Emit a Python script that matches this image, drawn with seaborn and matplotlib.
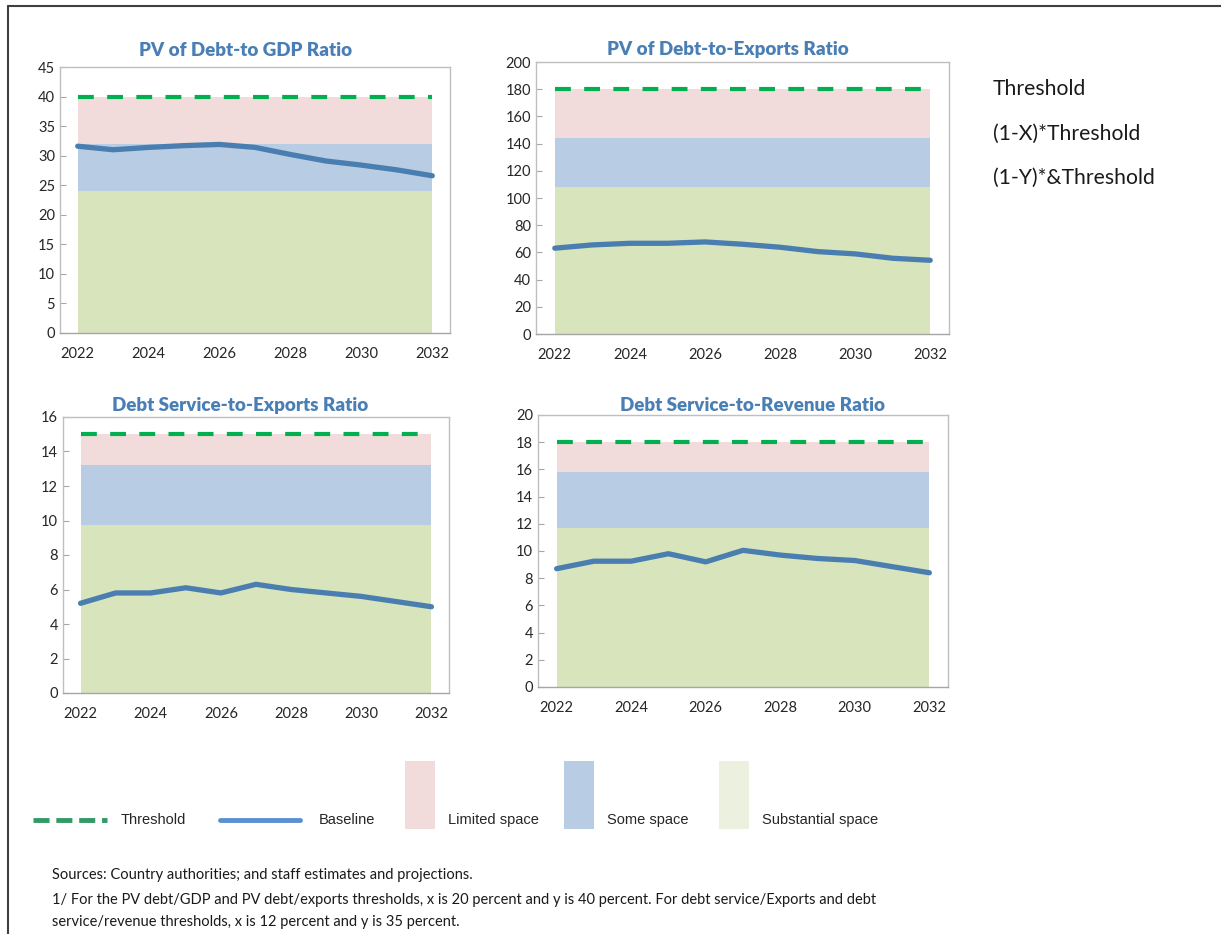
import numpy as np
import pandas as pd
import matplotlib.pyplot as plt
import seaborn as sns
from matplotlib.lines import Line2D
from matplotlib.patches import Rectangle

# Данные
years = list(range(2022, 2033))

titles = ['PV of Debt-to GDP Ratio', 'PV of Debt-to-Exports Ratio',
          'Debt Service-to-Exports Ratio', 'Debt Service-to-Revenue Ratio']

baseline_gdp = [31.6, 31.0, 31.4, 31.7, 31.9, 31.4, 30.2, 29.1, 28.4, 27.6, 26.6]
baseline_exp = [63.1, 65.5, 66.7, 66.7, 67.7, 66.0, 63.8, 60.6, 58.9, 55.7, 54.2]
baseline_dse = [5.2, 5.8, 5.8, 6.1, 5.8, 6.3, 6.0, 5.8, 5.6, 5.3, 5.0]
baseline_dsr = [8.7, 9.25, 9.25, 9.8, 9.2, 10.05, 9.7, 9.45, 9.3, 8.85, 8.4]

thresholds = [40, 180, 15, 18]
x_share = [0.20, 0.20, 0.12, 0.12]
y_share = [0.40, 0.40, 0.35, 0.35]

y_max = [45, 200, 16, 20]
y_step = [5, 20, 2, 2]

legend_labels = ['Threshold', 'Baseline', 'Limited space', 'Some space', 'Substantial space']
side_labels = ['Threshold', '(1-X)*Threshold', '(1-Y)*&Threshold']
notes = ['Sources: Country authorities; and staff estimates and projections.',
         '1/ For the PV debt/GDP and PV debt/exports thresholds, x is 20 percent and y is 40 percent. For debt service/Exports and debt',
         'service/revenue thresholds, x is 12 percent and y is 35 percent.']

baselines = [baseline_gdp, baseline_exp, baseline_dse, baseline_dsr]

# Цвета
c_limited = '#f2dcdb'
c_some = '#b8cce4'
c_subst = '#d7e4bc'
c_thr = '#00b050'
c_base = '#4a7eb0'
c_title = '#4a7fb5'

sns.set_style('white')
plt.rcParams['font.family'] = ['Lato', 'DejaVu Sans']

W, H = 1221, 934
fig = plt.figure(figsize=(W / 100, H / 100), dpi=100)

# позиции осей в пикселях: left, top, right, bottom
boxes = [(60, 67, 450, 333), (536, 62, 949, 334),
         (63, 417, 449, 693), (538, 415, 948, 687)]
title_x = [0.477, 0.465, 0.458, 0.522]
title_pad = [8, 5, 4, 3]

for i in range(4):
    l, t, r, b = boxes[i]
    ax = fig.add_axes([l / W, 1 - b / H, (r - l) / W, (b - t) / H])
    thr = thresholds[i]
    df = pd.DataFrame({'year': years, 'baseline': baselines[i],
                       'threshold': [thr] * len(years)})
    lim = (1 - x_share[i]) * thr
    sub = (1 - y_share[i]) * thr
    ax.fill_between(df['year'], 0, sub, color=c_subst, lw=0)
    ax.fill_between(df['year'], sub, lim, color=c_some, lw=0)
    ax.fill_between(df['year'], lim, thr, color=c_limited, lw=0)
    sns.lineplot(data=df, x='year', y='threshold', ax=ax, color=c_thr,
                 lw=3, dashes=False, linestyle=(0, (3.8, 3.2)))
    sns.lineplot(data=df, x='year', y='baseline', ax=ax, color=c_base, lw=3.8)

    ax.set_xlim(2021.5, 2032.5)
    ax.set_ylim(0, y_max[i])
    ax.set_yticks(np.arange(0, y_max[i] + 0.1, y_step[i]))
    ax.set_xticks(years[::2])
    ax.set_xticks([y + 0.5 for y in years[:-1]], minor=True)
    ax.tick_params(axis='x', which='major', length=0, pad=10, labelsize=10.5)
    ax.tick_params(axis='x', which='minor', direction='in', length=4,
                   color='#a6a6a6', bottom=True)
    ax.tick_params(axis='y', length=4, direction='in', color='#a6a6a6',
                   left=True, labelsize=10.5)
    ax.set_xlabel('')
    ax.set_ylabel('')
    for s in ax.spines.values():
        s.set_color('#bfbfbf')
        s.set_linewidth(1)
    ax.spines['bottom'].set_color('#a6a6a6')
    ax.set_title(titles[i], color=c_title, fontweight='heavy', fontsize=13.5,
                 pad=title_pad[i], x=title_x[i])

# Текст справа
for k, txt in enumerate(side_labels):
    fig.text(993 / W, 1 - (89 + k * 44.5) / H, txt, fontsize=15.2, va='center',
             ha='left', color='#1a1a1a')

# Легенда
fam = ['Liberation Sans', 'DejaVu Sans']
ly = 1 - 820 / H
fig.add_artist(Line2D([33 / W, 107 / W], [ly, ly], color='#339966', lw=3.5,
                      linestyle=(0, (3.3, 1.4))))
fig.add_artist(Line2D([220 / W, 300 / W], [ly, ly], color='#5b8fd0', lw=3.5))
fig.text(121 / W, ly, legend_labels[0], fontsize=10.5, va='center', family=fam)
fig.text(319 / W, ly, legend_labels[1], fontsize=10.5, va='center', family=fam)
patch_x = [405, 564, 719]
patch_c = [c_limited, c_some, '#ebf1de']
for k in range(3):
    fig.add_artist(Rectangle((patch_x[k] / W, 1 - 829 / H), 30 / W, 68 / H,
                             facecolor=patch_c[k], edgecolor='none'))
    fig.text((patch_x[k] + 43) / W, ly, legend_labels[2 + k], fontsize=10.5,
             va='center', family=fam)

# Примечания
for k, (txt, yy) in enumerate(zip(notes, [875, 900, 922])):
    fig.text(52 / W, 1 - yy / H, txt, fontsize=10.5, va='center', color='#1a1a1a')

# Рамка
fig.add_artist(Line2D([8 / W, 8 / W], [0, 1 - 6 / H], color='#404040', lw=1.5))
fig.add_artist(Line2D([8 / W, 1], [1 - 6 / H, 1 - 6 / H], color='#404040', lw=1.5))

plt.savefig('out.png', dpi=100)
